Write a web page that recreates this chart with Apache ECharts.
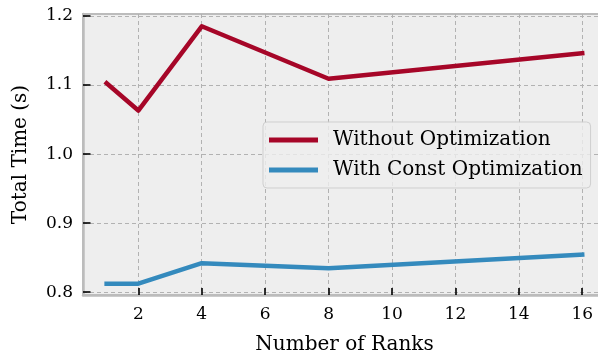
<!DOCTYPE html>
<html>
<head>
<meta charset="utf-8">
<style>
  html, body { margin: 0; padding: 0; background: #ffffff; }
  #chart { width: 598px; height: 354px; }
</style>
<script src="https://cdn.jsdelivr.net/npm/echarts@6/dist/echarts.min.js"></script>
</head>
<body>
<div id="chart"></div>
<script>
// Total run time against the number of ranks
const ranks = [1, 2, 4, 8, 16];
const withoutOpt = [1.1026, 1.0630, 1.1850, 1.1090, 1.1460];
const withConstOpt = [0.8124, 0.8124, 0.8420, 0.8347, 0.8544];
const xTicks = [2, 4, 6, 8, 10, 12, 14, 16];
const yTicks = [0.8, 0.9, 1.0, 1.1, 1.2];
const seriesNames = ['Without Optimization', 'With Const Optimization'];

const FONT = 'DejaVu Serif';
const pairs = (ys) => ranks.map((r, i) => [r, ys[i]]);

const chart = echarts.init(document.getElementById('chart'), null, { renderer: 'canvas' });

const dashed = { show: true, lineStyle: { color: '#b2b2b2', width: 1, type: [4, 3] } };

chart.setOption({
  animation: false,
  backgroundColor: '#ffffff',
  grid: {
    left: 83, right: -8, top: 14, bottom: 59,
    containLabel: false, outerBoundsMode: 'none',
    show: true, backgroundColor: '#eeeeee',
    borderColor: '#bcbcbc', borderWidth: 2
  },
  legend: {
    left: 263, top: 122,
    orient: 'vertical',
    icon: 'rect', itemWidth: 49, itemHeight: 5, itemGap: 8,
    padding: [7, 8, 7, 6],
    backgroundColor: 'rgba(238,238,238,0.8)',
    borderColor: '#cfcfcf', borderWidth: 1, borderRadius: 4,
    textStyle: { fontFamily: FONT, fontSize: 20, color: '#000', lineHeight: 22, padding: [0, 0, 0, 10] },
    data: seriesNames
  },
  xAxis: {
    type: 'value', min: 0.255, max: 16.75,
    name: 'Number of Ranks', nameLocation: 'middle', nameGap: 40,
    nameTextStyle: { fontFamily: FONT, fontSize: 20, color: '#000' },
    axisLine: { show: true, lineStyle: { color: '#bcbcbc', width: 2.5 } },
    axisTick: { show: true, inside: true, length: 7, customValues: xTicks, lineStyle: { color: '#000', width: 1.6 } },
    axisLabel: { customValues: xTicks, margin: 11, fontFamily: FONT, fontSize: 17, color: '#000' },
    splitLine: dashed
  },
  yAxis: {
    type: 'value', min: 0.796, max: 1.2028,
    name: 'Total Time (s)', nameLocation: 'middle', nameGap: 52,
    nameTextStyle: { fontFamily: FONT, fontSize: 20, color: '#000' },
    axisLine: { show: true, lineStyle: { color: '#bcbcbc', width: 2.5 } },
    axisTick: { show: true, inside: true, length: 7.5, customValues: yTicks, lineStyle: { color: '#000', width: 1.6 } },
    axisLabel: { customValues: yTicks, margin: 10, fontFamily: FONT, fontSize: 17, color: '#000',
      formatter: (v) => v.toFixed(1) },
    splitLine: dashed
  },
  series: [
    {
      name: seriesNames[0], type: 'line', data: pairs(withoutOpt),
      showSymbol: false, symbol: 'none', color: '#A60628',
      lineStyle: { width: 4.5, color: '#A60628', join: 'round', cap: 'square' }
    },
    {
      name: seriesNames[1], type: 'line', data: pairs(withConstOpt),
      showSymbol: false, symbol: 'none', color: '#348ABD',
      lineStyle: { width: 4.5, color: '#348ABD', join: 'round', cap: 'square' }
    }
  ]
});
</script>
</body>
</html>
